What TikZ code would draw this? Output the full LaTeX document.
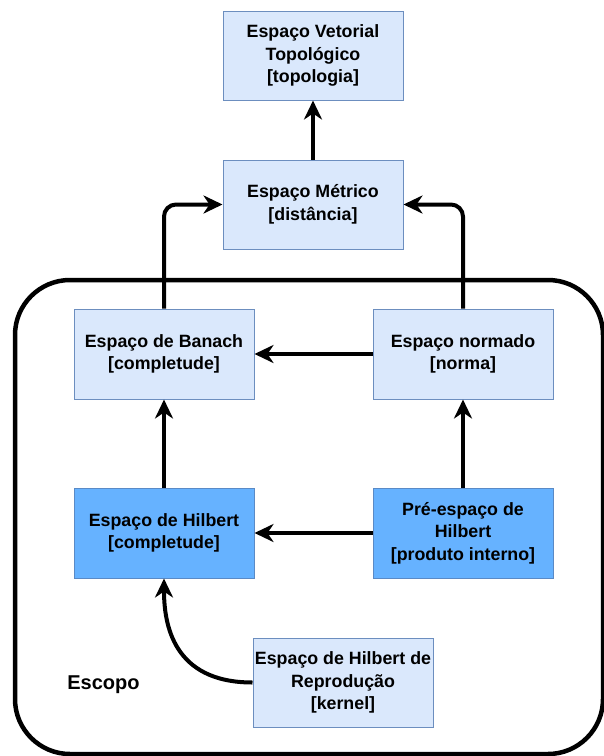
\documentclass[tikz,border=0pt]{standalone}
\usepackage{fontspec}
\setmainfont{Liberation Sans}
\usetikzlibrary{arrows.meta}
\definecolor{lightfill}{HTML}{DAE8FC}
\definecolor{lightdraw}{HTML}{6C8EBF}
\definecolor{darkfill}{HTML}{66B2FF}
\definecolor{darkdraw}{HTML}{5A8AC6}
\begin{document}
\begin{tikzpicture}[x=1pt,y=-1pt,
  box/.style={draw=lightdraw, fill=lightfill, line width=1pt, minimum width=180pt, minimum height=89pt, inner sep=0pt, align=center, font=\bfseries\fontsize{17.8}{22.5}\selectfont},
  darkbox/.style={box, fill=darkfill, draw=darkdraw},
  arr/.style={line width=4pt, -{Stealth[length=19pt, width=18pt, inset=6pt]}},
  scopebox/.style={line width=4.5pt, rounded corners=55pt},
  lbl/.style={font=\bfseries\fontsize{20}{24}\selectfont, inner sep=0pt}]
\useasboundingbox (0,0) rectangle (604,756);
\fill[white] (0,0) rectangle (604,756);
\draw[scopebox] (15,280) rectangle (603,754);
\node[box] (vt) at (313,55.5) {Espaço Vetorial\\Topológico\\{}[topologia]};
\node[box] (mt) at (313,204.5) {Espaço Métrico\\{}[distância]};
\node[box, minimum height=90pt] (ba) at (164,354) {Espaço de Banach\\{}[completude]};
\node[box, minimum height=90pt] (no) at (463,354) {Espaço normado\\{}[norma]};
\node[darkbox, minimum height=90pt] (hi) at (164,533) {Espaço de Hilbert\\{}[completude]};
\node[darkbox, minimum height=90pt] (pr) at (463,533) {Pré-espaço de\\Hilbert\\{}[produto interno]};
\node[box] (rk) at (343,682.5) {Espaço de Hilbert de\\Reprodução\\{}[kernel]};
\node[lbl] (esc) at (103.5,685) {Escopo};
\draw[arr] (mt.north) -- (vt.south);
\draw[arr, rounded corners=12pt] (ba.north) |- (mt.west);
\draw[arr, rounded corners=12pt] (no.north) |- (mt.east);
\draw[arr] (no.west) -- (ba.east);
\draw[arr] (hi.north) -- (ba.south);
\draw[arr] (pr.north) -- (no.south);
\draw[arr] (pr.west) -- (hi.east);
\draw[arr] (rk.west) .. controls +(-80,0) and +(0,45) .. (hi.south);
\end{tikzpicture}
\end{document}
